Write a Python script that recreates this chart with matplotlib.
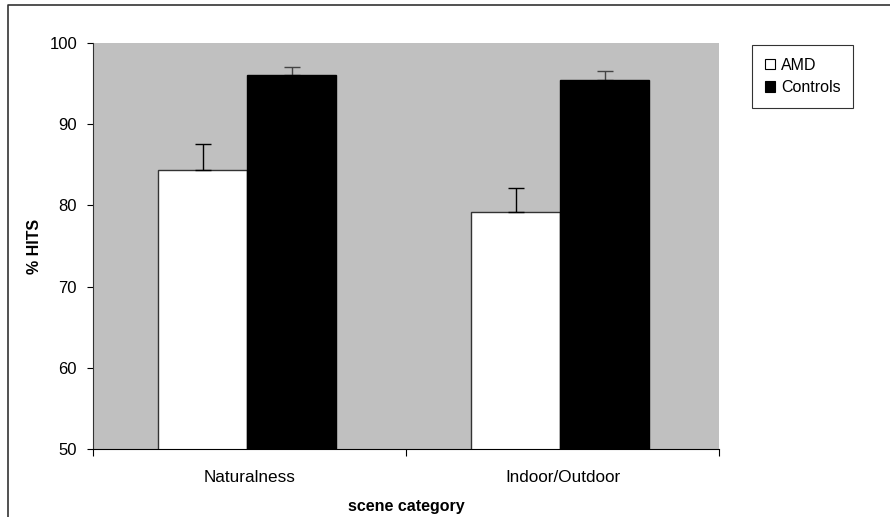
import matplotlib
matplotlib.use("Agg")
import matplotlib.pyplot as plt
from matplotlib.lines import Line2D
from matplotlib.patches import Patch
import numpy as np

plt.rcParams['font.family'] = ['Liberation Sans', 'DejaVu Sans']

categories = ['Naturalness', 'Indoor/Outdoor']
amd = [84.4, 79.2]
amd_err = [3.2, 3.0]
controls = [96.0, 95.4]
controls_err = [1.0, 1.2]

fig = plt.figure(figsize=(8.9, 5.17), dpi=100)
ax = fig.add_axes([0.1045, 0.1315, 0.7034, 0.7853])
ax.set_facecolor('#c0c0c0')

x = np.arange(len(categories)) - 0.007
w = 0.284
ax.bar(x - w/2, amd, w, bottom=0, color='white', edgecolor='#333333', linewidth=1.0, zorder=2)
ax.bar(x + w/2, controls, w, bottom=0, color='black', edgecolor='black', linewidth=1.0, zorder=2)
ax.errorbar(x - w/2, amd, yerr=[np.zeros(2), amd_err], fmt='none', ecolor='black',
            elinewidth=1, capsize=6, capthick=1, zorder=3)
ax.errorbar(x + w/2, controls, yerr=[np.zeros(2), controls_err], fmt='none', ecolor='#444444',
            elinewidth=1, capsize=6, capthick=1, zorder=1)

ax.set_xlim(-0.5, 1.5)
ax.set_ylim(50, 100)
ax.set_yticks([50, 60, 70, 80, 90, 100])
ax.set_xticks(np.arange(len(categories)))
ax.set_xticklabels(categories)
ax.set_xticks([-0.5, 0.5, 1.5], minor=True)
ax.tick_params(axis='x', which='major', length=0, pad=15, labelsize=12.3)
ax.tick_params(axis='x', which='minor', length=5, direction='out', width=0.8)
ax.tick_params(axis='y', length=4.5, direction='out', width=0.8, labelsize=12, pad=7)

for s in ['top', 'right']:
    ax.spines[s].set_visible(False)
ax.spines['left'].set_color('#333333')
ax.spines['bottom'].set_color('black')

ax.set_ylabel('% HITS', fontsize=11.5, fontweight='bold', labelpad=5)
ax.set_xlabel('scene category', fontsize=11.5, fontweight='bold', labelpad=10)

handles = [Patch(facecolor='white', edgecolor='black', linewidth=0.8, label='AMD'),
           Patch(facecolor='black', edgecolor='black', linewidth=0.8, label='Controls')]
leg = fig.legend(handles=handles, loc='upper left', bbox_to_anchor=(752/890, 1 - 45/517),
                 fontsize=11.5, frameon=True, fancybox=False, edgecolor='black',
                 handlelength=0.65, handleheight=0.65, handletextpad=0.35,
                 borderpad=0.8, labelspacing=0.45, borderaxespad=0)
leg.get_frame().set_linewidth(0.8)

# outer frame
fig.add_artist(Line2D([8/890, 8/890, 1], [0, 1 - 5/517, 1 - 5/517],
                      transform=fig.transFigure, color='#333333', linewidth=1.2))

fig.savefig('out.png', dpi=100)
